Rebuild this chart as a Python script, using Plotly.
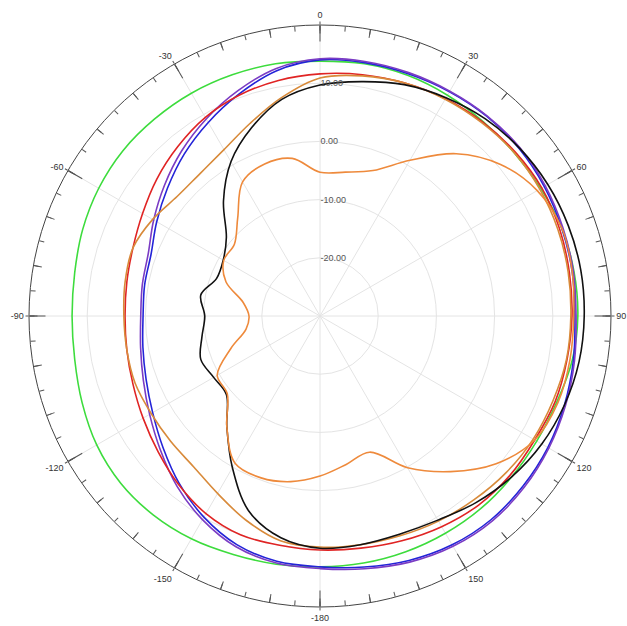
import plotly.graph_objects as go

# Angles in degrees (0 at top, clockwise), values in dB
theta = list(range(0, 360, 10))

green = [13.8, 14.0, 14.0, 13.8, 13.6, 13.6, 13.8, 14.2, 14.3, 14.3, 14.0, 13.3,
         13.0, 13.0, 13.1, 13.1, 13.1, 13.1, 13.1, 13.3, 13.6, 14.2, 14.6, 14.7,
         14.3, 13.5, 12.8, 12.6, 12.8, 13.4, 13.9, 14.2, 14.2, 14.2, 14.1, 14.0]

blue = [14.0, 14.2, 14.3, 14.5, 14.7, 14.7, 14.5, 14.2, 14.0, 13.8, 14.2, 14.7,
        15.2, 15.5, 15.7, 15.4, 14.7, 13.8, 13.1, 12.8, 11.8, 9.9, 7.6, 5.2,
        3.2, 1.8, 0.9, 0.4, 0.6, 0.9, 2.4, 4.2, 6.3, 8.4, 10.6, 12.8]

purple = [14.2, 14.4, 14.5, 14.6, 14.8, 14.9, 14.7, 14.4, 14.2, 14.0, 14.4, 14.9,
          15.4, 15.8, 16.0, 15.7, 15.0, 14.1, 13.4, 13.1, 12.2, 10.4, 8.2, 5.8,
          3.8, 2.3, 1.3, 0.8, 1.0, 1.4, 3.0, 4.9, 7.0, 9.1, 11.2, 13.2]

red = [11.6, 12.1, 12.6, 13.1, 13.5, 13.8, 14.0, 13.8, 13.5, 13.3, 13.1, 13.0,
       12.6, 12.6, 12.4, 11.8, 11.1, 10.5, 10.2, 10.0, 10.0, 9.2, 7.8, 6.3,
       5.1, 4.2, 3.7, 3.5, 3.7, 4.2, 5.2, 6.6, 8.0, 9.4, 10.4, 11.1]

orange_outer = [10.9, 11.9, 12.6, 13.0, 13.3, 13.6, 13.6, 13.5, 13.3, 13.1, 13.0, 12.6,
                12.3, 11.8, 11.2, 10.7, 10.2, 9.9, 9.7, 9.2, 7.3, 5.2, 3.8, 3.5,
                3.5, 3.8, 3.7, 3.7, 4.0, 4.2, 3.2, 2.0, 2.0, 3.0, 5.2, 8.1]

black = [9.7, 10.9, 12.3, 13.3, 14.2, 14.8, 15.2, 15.4, 15.5, 15.4, 15.2, 14.7,
         14.0, 13.0, 11.8, 10.5, 9.9, 9.9, 9.9, 8.7, 5.7, 0.1, -5.1, -9.0,
         -8.9, -8.2, -9.4, -10.2, -9.2, -11.1, -10.8, -9.0, -4.2, 0.6, 4.4, 7.8]

orange_inner = [-5.3, -4.9, -3.4, 0.9, 6.4, 10.5, 13.1, 14.2, 14.0, 13.6, 13.6, 13.5,
                12.6, 9.5, 4.9, 0.1, -5.1, -4.1, -2.5, -1.1, -0.4, -0.8, -5.1, -9.2,
                -9.6, -13.7, -17.1, -17.8, -16.6, -12.8, -10.9, -10.8, -8.0, -3.4, -2.2, -2.5]

angle_ticks = list(range(0, 360, 30))
angle_labels = ['0', '30', '60', '90', '120', '150', '-180', '-150', '-120', '-90', '-60', '-30']
minor10 = list(range(0, 360, 10))
minor5 = list(range(0, 360, 5))
radial_ticks = [-20, -10, 0, 10]
radial_labels = ['-20.00', '-10.00', '0.00', '10.00']
radial_range = [-30, 20]

series = [
    (green, '#3ddc3d'),
    (blue, '#2424d8'),
    (purple, '#7b3cc4'),
    (red, '#e02424'),
    (orange_outer, '#d88a3a'),
    (black, '#111111'),
    (orange_inner, '#ee8a3c'),
]

fig = go.Figure()
for vals, color in series:
    fig.add_trace(go.Scatterpolar(
        r=vals + vals[:1], theta=theta + [360], mode='lines',
        line=dict(color=color, width=1.6, shape='spline', smoothing=1.0),
        subplot='polar', showlegend=False, hoverinfo='skip'))

for sp in ['polar2', 'polar3', 'polar4']:
    fig.add_trace(go.Scatterpolar(r=[None], theta=[None], mode='lines',
                                  subplot=sp, showlegend=False, hoverinfo='skip'))

common_domain = dict(x=[0, 1], y=[0, 1])


def tick_overlay(vals, length):
    return dict(
        domain=common_domain, bgcolor='rgba(0,0,0,0)',
        angularaxis=dict(rotation=90, direction='clockwise', tickmode='array',
                         tickvals=vals, ticks='inside', ticklen=length, tickcolor='#555',
                         showticklabels=False, showgrid=False, showline=False),
        radialaxis=dict(visible=False, range=radial_range),
    )


fig.update_layout(
    width=627, height=626,
    margin=dict(l=29, r=16, t=25, b=19),
    paper_bgcolor='white',
    polar=dict(
        domain=common_domain,
        bgcolor='white',
        angularaxis=dict(
            rotation=90, direction='clockwise',
            tickmode='array', tickvals=angle_ticks, ticktext=angle_labels,
            ticks='outside', ticklen=3, tickcolor='#555', tickwidth=1,
            showline=True, linecolor='#444', linewidth=1,
            showgrid=True, gridcolor='#e4e4e4', gridwidth=1,
            tickfont=dict(family='Liberation Sans, Arial, sans-serif', size=9, color='#333'),
        ),
        radialaxis=dict(
            range=radial_range, tickmode='array',
            tickvals=radial_ticks, ticktext=radial_labels,
            angle=90, tickangle=90, side='clockwise',
            showline=False, ticks='',
            showgrid=True, gridcolor='#e4e4e4', gridwidth=1,
            tickfont=dict(family='Liberation Sans, Arial, sans-serif', size=9, color='#555'),
        ),
    ),
    polar2=tick_overlay(minor10, 8),
    polar3=tick_overlay(minor5, 5),
    polar4=tick_overlay(angle_ticks, 16),
)

fig.write_html('out.html')
